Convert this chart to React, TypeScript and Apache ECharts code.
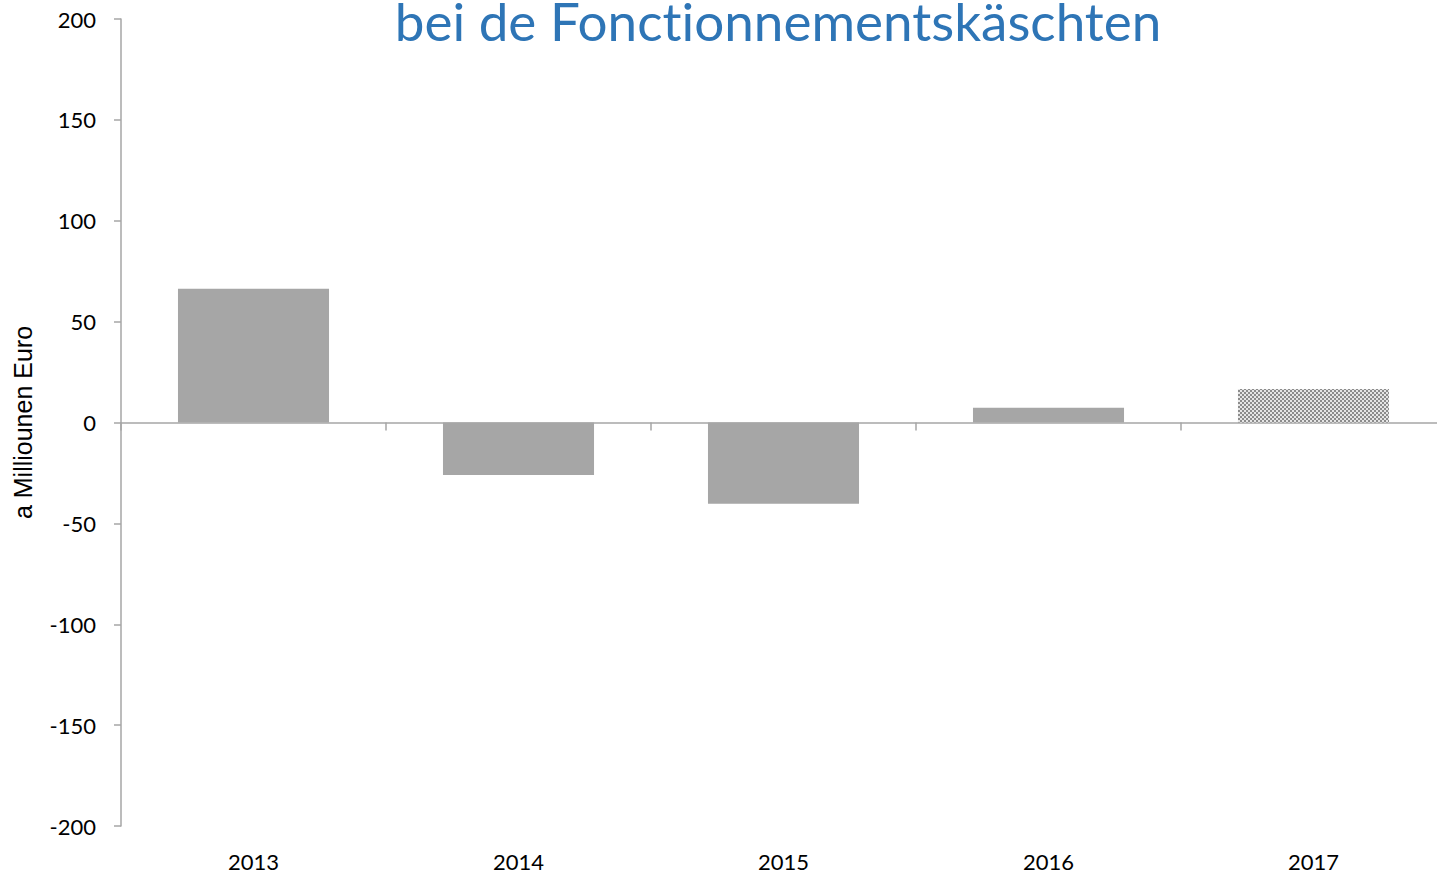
import React, { useEffect, useRef } from "react";
import * as echarts from "echarts";

const titleText = "bei de Fonctionnementskäschten";
const yAxisName = "a Milliounen Euro";
const categories = ["2013", "2014", "2015", "2016", "2017"];
const values = [66.3, -26, -40.3, 7.3, 16.6];
const forecastIndex = 4;

function makePattern(): HTMLCanvasElement {
  const c = document.createElement("canvas");
  c.width = 4;
  c.height = 4;
  const ctx = c.getContext("2d")!;
  ctx.fillStyle = "#e6e6e6";
  ctx.fillRect(0, 0, 4, 4);
  ctx.fillStyle = "#8c8c8c";
  ctx.fillRect(0, 0, 2, 2);
  ctx.fillRect(2, 2, 2, 2);
  return c;
}

export default function App() {
  const ref = useRef<HTMLDivElement>(null);
  useEffect(() => {
    const chart = echarts.init(ref.current!, undefined, { renderer: "svg" });
    const pattern = makePattern();
    const font = "Lato";
    chart.setOption({
      animation: false,
      title: {
        text: titleText,
        left: 773,
        textAlign: "center",
        top: -11,
        textStyle: { color: "#2E75B6", fontSize: 53, fontWeight: "normal", fontFamily: font },
      },
      grid: { left: 121, right: 0, top: 19, bottom: 50, containLabel: false },
      xAxis: [
        {
          type: "category",
          data: categories,
          position: "bottom",
          axisLine: { show: false, onZero: false },
          axisTick: { show: false },
          axisLabel: { fontSize: 22, color: "#000", fontFamily: font, margin: 24 },
        },
        {
          type: "category",
          data: categories,
          position: "bottom",
          axisLine: { show: true, onZero: true, lineStyle: { color: "#A6A6A6", width: 1.5 } },
          axisTick: { show: true, length: 8, lineStyle: { color: "#A6A6A6", width: 1.5 } },
          axisLabel: { show: false },
        },
      ],
      yAxis: {
        type: "value",
        min: -200,
        max: 200,
        interval: 50,
        name: yAxisName,
        nameLocation: "middle",
        nameGap: 86,
        nameTextStyle: { fontSize: 25, color: "#000", fontFamily: "Liberation Sans" },
        axisLine: { show: true, lineStyle: { color: "#A6A6A6", width: 1.5 } },
        axisTick: { show: true, length: 7, lineStyle: { color: "#A6A6A6", width: 1.5 } },
        axisLabel: { fontSize: 22, color: "#000", fontFamily: font, margin: 25 },
        splitLine: { show: false },
      },
      series: [
        {
          type: "bar",
          xAxisIndex: 0,
          barWidth: "57%",
          data: values.map((v, i) =>
            i === forecastIndex
              ? { value: v, itemStyle: { color: { image: pattern, repeat: "repeat" } } }
              : { value: v, itemStyle: { color: "#A6A6A6" } }
          ),
        },
      ],
    });
    return () => chart.dispose();
  }, []);
  return (
    <div style={{ position: "absolute", left: 0, top: 0, width: 1437, height: 876, overflow: "hidden", background: "#fff" }}>
      <style>{"svg text { font-variant-ligatures: none; font-feature-settings: 'liga' 0; }"}</style>
      <div ref={ref} style={{ width: 1446, height: 876 }} />
    </div>
  );
}
